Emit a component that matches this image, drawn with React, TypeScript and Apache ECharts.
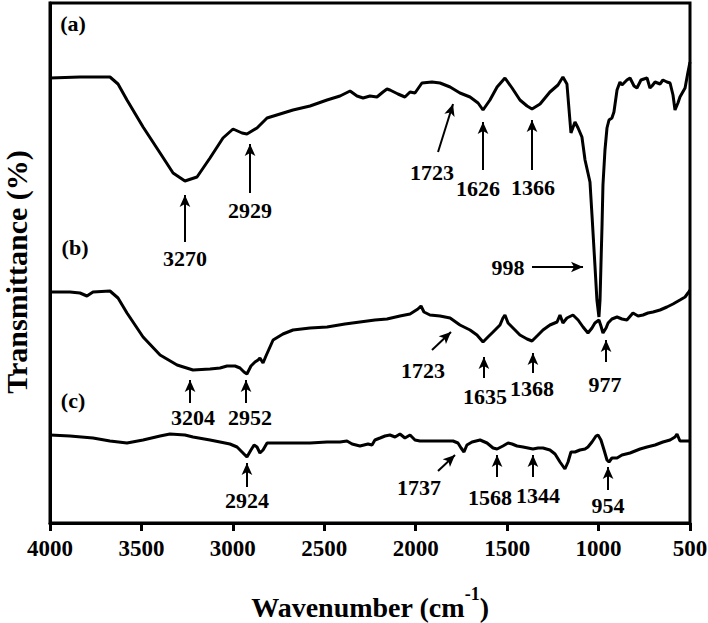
import React, { useEffect, useRef } from "react";
import * as echarts from "echarts";

const FONT = '"Liberation Serif", "Times New Roman", serif';

// Curve (a)
const aWave = [4000, 3836, 3672, 3628, 3579, 3491, 3398, 3327, 3262, 3196, 3125, 3054, 2999, 2950, 2923, 2868, 2813, 2742, 2671, 2578, 2485, 2414, 2359, 2321, 2288, 2250, 2212, 2179, 2157, 2141, 2097, 2059, 2031, 2004, 1966, 1911, 1867, 1812, 1758, 1703, 1659, 1632, 1594, 1555, 1512, 1473, 1430, 1391, 1364, 1320, 1266, 1222, 1195, 1173, 1151, 1129, 1112, 1091, 1074, 1058, 1047, 1036, 1020, 1009, 998, 992, 987, 981, 976, 965, 954, 943, 927, 916, 899, 883, 872, 845, 828, 806, 790, 768, 752, 735, 719, 708, 691, 664, 648, 626, 609, 593, 582, 566, 555, 527, 511, 500];
const aTrans = [111.25, 111.5, 111.5, 109.75, 105.75, 99, 92.5, 87.5, 85.5, 86.5, 91.25, 96.25, 98.5, 97.5, 97.25, 98.75, 101.25, 102.25, 103.25, 104.25, 105.75, 106.75, 108, 106.75, 106.25, 106.75, 106.5, 107.75, 108.5, 108.25, 107.25, 106.5, 107.75, 107.5, 110, 110.25, 110, 109, 107.5, 106.5, 105, 103.25, 105.75, 109, 111.25, 108.75, 105.75, 104.25, 103.5, 104.75, 107.75, 109.5, 111.5, 109.75, 97.5, 100.25, 98.75, 96.5, 90.75, 87.5, 85.25, 77, 64.5, 55.75, 51.5, 55.75, 64.5, 74.5, 84.5, 93.25, 98.75, 100.75, 101.25, 102.75, 108.25, 110.25, 109.5, 110.75, 111.25, 109.25, 108.75, 110.75, 111, 111.25, 108.75, 109.25, 110.25, 109.75, 110.75, 110.25, 110, 107, 103.25, 105, 106.5, 108.75, 112.75, 115.25];

// Curve (b)
const bWave = [4000, 3891, 3836, 3798, 3765, 3672, 3628, 3579, 3491, 3398, 3305, 3218, 3125, 3070, 3032, 2988, 2961, 2939, 2923, 2901, 2879, 2862, 2852, 2835, 2819, 2780, 2726, 2671, 2578, 2485, 2387, 2305, 2223, 2157, 2086, 2031, 1988, 1971, 1955, 1922, 1867, 1812, 1758, 1703, 1665, 1632, 1605, 1577, 1539, 1523, 1512, 1495, 1457, 1430, 1391, 1364, 1331, 1304, 1266, 1227, 1211, 1195, 1173, 1140, 1112, 1085, 1058, 1036, 1020, 998, 987, 976, 959, 948, 927, 899, 872, 845, 812, 784, 757, 730, 702, 664, 626, 593, 555, 527, 511, 500];
const bTrans = [57.75, 57.75, 57.5, 56.75, 57.75, 58, 56.25, 52.5, 46.5, 42, 39.5, 38.25, 38.5, 38.75, 39.25, 39.25, 38.75, 37.75, 37.25, 39.25, 40.25, 40.75, 41.25, 40, 41.75, 45.75, 47.25, 48.25, 48.75, 49, 49.75, 50.25, 50.75, 51, 51.75, 52.25, 53.5, 54.25, 52.75, 52, 51.75, 51.25, 49.5, 48.25, 47, 45.25, 46.5, 47.75, 49.5, 51.25, 52, 50, 48.25, 47, 46, 45.5, 47, 48.25, 49.5, 50.25, 52, 50, 51.25, 52, 50.75, 49, 47.5, 48.75, 50, 50.75, 49.25, 47.5, 48.75, 50, 51, 51.5, 51, 50.75, 52.5, 51.75, 52, 52.5, 52.75, 53.25, 54, 54.75, 55.75, 56.5, 57.5, 58.25];

// Curve (c)
const cWave = [4000, 3891, 3765, 3672, 3579, 3491, 3398, 3344, 3262, 3218, 3125, 3070, 3016, 2977, 2950, 2923, 2901, 2884, 2868, 2852, 2835, 2813, 2742, 2671, 2578, 2485, 2414, 2376, 2348, 2305, 2261, 2239, 2223, 2195, 2168, 2141, 2113, 2086, 2059, 2031, 2004, 1977, 1922, 1867, 1796, 1769, 1752, 1736, 1720, 1692, 1648, 1610, 1577, 1555, 1523, 1495, 1473, 1446, 1413, 1386, 1359, 1331, 1304, 1266, 1238, 1211, 1184, 1167, 1151, 1129, 1102, 1074, 1058, 1036, 1014, 1003, 987, 970, 954, 943, 927, 899, 872, 828, 773, 735, 691, 648, 609, 582, 571, 555, 527, 500];
const cTrans = [22, 21.75, 21.25, 20.5, 20, 20.75, 21.75, 22.25, 22, 21.5, 20.75, 20.25, 19.75, 19, 17.75, 16.5, 18.25, 19.5, 19, 17.5, 18.25, 20, 20, 20, 20, 20.25, 20.25, 20.5, 19.75, 19.25, 19.75, 19.5, 20.75, 21.25, 21.75, 22, 21.5, 22.25, 21.25, 22, 20.75, 20.5, 20.5, 20.5, 20.5, 20, 18.75, 17.75, 19.5, 20.25, 20.75, 20, 18.75, 18.5, 19.25, 20, 19.75, 19.25, 19, 18.75, 18.5, 18.75, 18.75, 18.25, 17.25, 15.25, 13.5, 15.25, 17.75, 17.75, 18.25, 18.5, 19, 20.25, 21.75, 22, 20.75, 18.25, 15.75, 15.25, 16.25, 16.25, 17, 17.5, 18.5, 19, 19.5, 20.25, 20.75, 21.5, 22.25, 20.5, 20.5, 20.5];

// Annotation labels
const labelTexts = ["(a)", "(b)", "(c)", "3270", "2929", "1723", "1626", "1366", "998", "1723", "1635", "1368", "977", "3204", "2952", "2924", "1737", "1568", "1344", "954"];
const labelWave = [3874, 3863, 3874, 3262, 2906, 1911, 1659, 1359, 1495, 1960, 1621, 1364, 965, 3218, 2906, 2923, 1982, 1594, 1331, 948];
const labelTrans = [125, 69, 30.75, 66.25, 78.25, 87.75, 83.75, 84, 64, 38.25, 31.75, 33.75, 34.75, 26.5, 26.5, 5.75, 9, 6.5, 7, 4.5];

// Arrows: tail -> head
const arrowTailWave = [3262, 2906, 1878, 1632, 1364, 1364, 1911, 1627, 1359, 959, 3234, 2928, 2923, 1878, 1555, 1359, 948];
const arrowTailTrans = [70.25, 82.5, 92.75, 88.25, 88.25, 64, 43.25, 36.25, 37.5, 40.25, 30, 30, 9, 13, 11.5, 11.5, 8.25];
const arrowHeadWave = [3262, 2906, 1796, 1632, 1364, 1085, 1807, 1627, 1359, 959, 3234, 2928, 2923, 1785, 1555, 1359, 948];
const arrowHeadTrans = [82, 94.75, 104.75, 100.25, 100.75, 64, 47.75, 41.5, 42.5, 45.75, 35.75, 35.75, 15, 17, 17, 17, 14];

const zip = (xs: number[], ys: number[]) => xs.map((x, i) => [x, ys[i]]);

export default function App() {
  const ref = useRef<HTMLDivElement>(null);
  useEffect(() => {
    if (!ref.current) return;
    const chart = echarts.init(ref.current, undefined, { renderer: "svg" });
    const lineStyle = { color: "#000", width: 3 };
    const option: any = {
      animation: false,
      backgroundColor: "#fff",
      grid: {
        left: 50, right: 18, top: 3, bottom: 100,
        containLabel: false, outerBoundsMode: "none",
        show: true, borderColor: "#000", borderWidth: 3,
      },
      xAxis: {
        type: "value",
        min: 500,
        max: 4000,
        interval: 500,
        inverse: true,
        axisLine: { show: true, lineStyle: { color: "#000", width: 3 } },
        axisTick: { show: true, length: 8, lineStyle: { color: "#000", width: 3 } },
        axisLabel: {
          color: "#000", fontFamily: FONT, fontWeight: "bold", fontSize: 23, margin: 14,
          showMinLabel: true, showMaxLabel: true, hideOverlap: false,
          formatter: (v: number) => String(v),
        },
        splitLine: { show: false },
        name: "{t|Wavenumber (cm}{s|-1}{t|)}",
        nameLocation: "middle",
        nameGap: 62,
        nameTextStyle: {
          rich: {
            t: { fontFamily: FONT, fontWeight: "bold", fontSize: 28, color: "#000", lineHeight: 36, verticalAlign: "bottom" },
            s: { fontFamily: FONT, fontWeight: "bold", fontSize: 18, color: "#000", lineHeight: 36, verticalAlign: "top" },
          },
        },
      },
      yAxis: {
        type: "value",
        min: 0,
        max: 130,
        axisLine: { show: true, lineStyle: { color: "#000", width: 3 } },
        axisTick: { show: false },
        axisLabel: { show: false },
        splitLine: { show: false },
        name: "Transmittance (%)",
        nameLocation: "middle",
        nameGap: 19,
        nameTextStyle: { fontFamily: FONT, fontWeight: "bold", fontSize: 30, color: "#000", padding: [0, 18, 0, 0] },
      },
      series: [
        { type: "line", data: zip(aWave, aTrans), showSymbol: false, lineStyle, silent: true },
        { type: "line", data: zip(bWave, bTrans), showSymbol: false, lineStyle, silent: true },
        {
          type: "line",
          data: zip(cWave, cTrans),
          showSymbol: false,
          lineStyle,
          silent: true,
          markLine: {
            silent: true,
            symbol: ["none", "arrow"],
            symbolSize: [8, 12],
            lineStyle: { color: "#000", width: 2, type: "solid", opacity: 1 },
            itemStyle: { color: "#000" },
            label: { show: false },
            emphasis: { disabled: true },
            data: arrowTailWave.map((w, i) => [
              { coord: [w, arrowTailTrans[i]] },
              { coord: [arrowHeadWave[i], arrowHeadTrans[i]] },
            ]),
          },
        },
        {
          type: "scatter",
          data: labelTexts.map((t, i) => ({ name: t, value: [labelWave[i], labelTrans[i]] })),
          symbolSize: 1,
          itemStyle: { color: "rgba(255,255,255,0)", opacity: 1 },
          silent: true,
          label: {
            show: true,
            position: "inside",
            formatter: (p: any) => p.name,
            color: "#000",
            opacity: 1,
            textBorderWidth: 0,
            fontFamily: FONT,
            fontWeight: "bold",
            fontSize: 22,
          },
        },
      ],
    };
    chart.setOption(option);
    return () => chart.dispose();
  }, []);
  return <div ref={ref} style={{ position: "absolute", left: 0, top: 0, width: 708, height: 623 }} />;
}
